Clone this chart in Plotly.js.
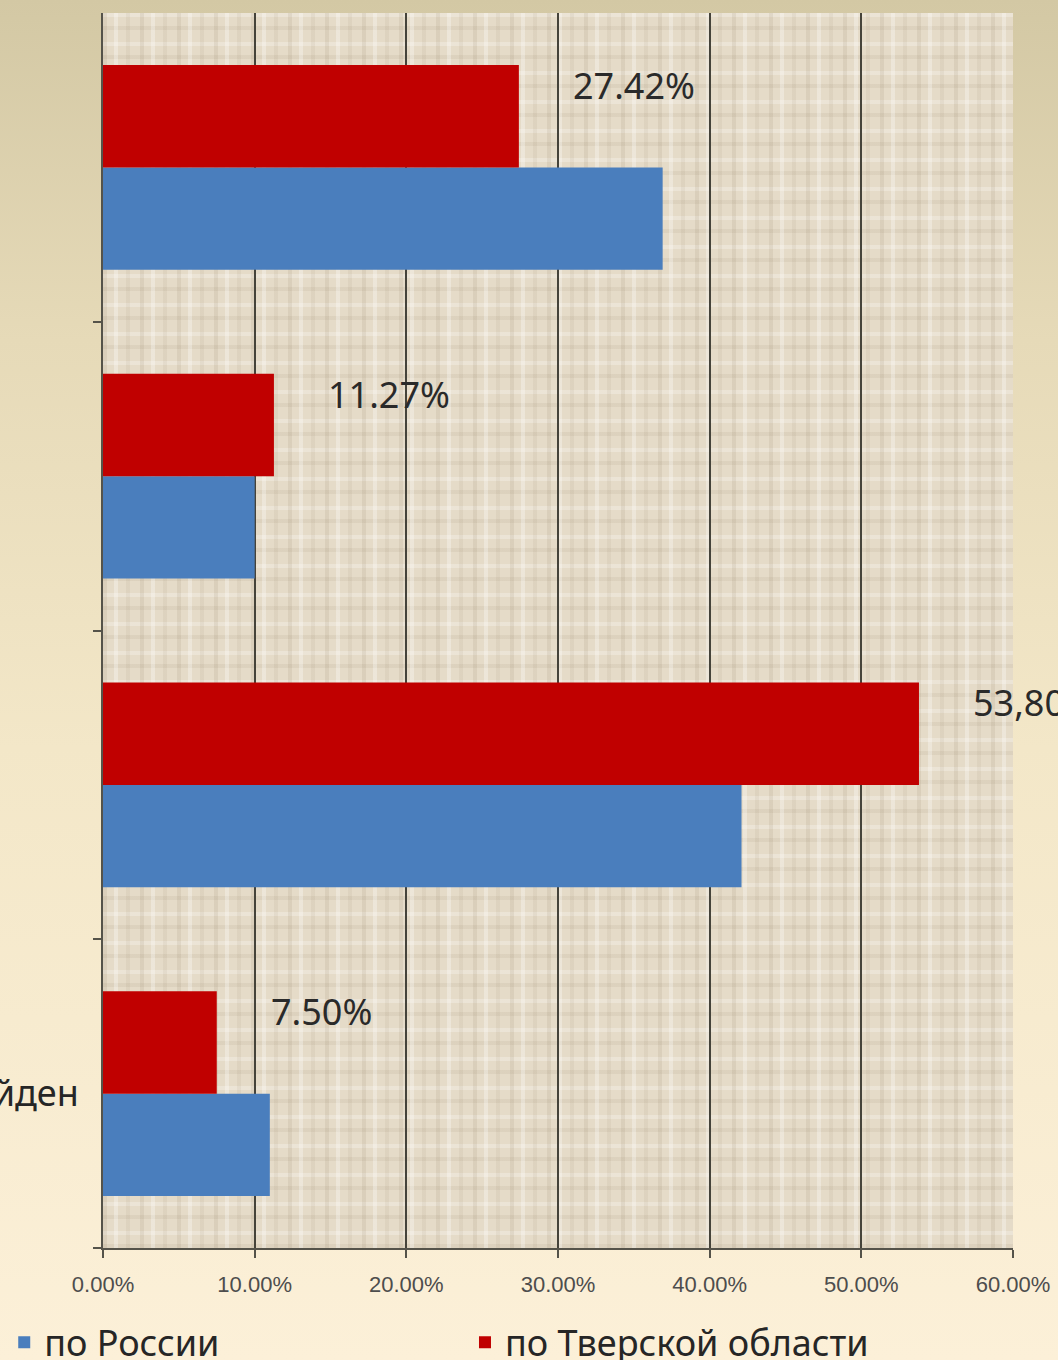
<!DOCTYPE html>
<html>
<head>
<meta charset="utf-8">
<script src="https://cdn.plot.ly/plotly-3.0.1.min.js"></script>
<style>
  html, body { margin: 0; padding: 0; }
  body {
    position: relative;
    width: 1058px; height: 1360px; overflow: hidden;
    background: linear-gradient(to bottom, #d3c8a4 0%, #e6dab8 25%, #f3e7c8 55%, #fcf0d8 100%);
  }
  #texture {
    position: absolute; left: 103px; top: 13px; width: 910px; height: 1235px;
    background-color: #e5dbc8;
    background-image:
      repeating-linear-gradient(90deg, rgba(120,100,70,0.10) 0 4px, transparent 4px 11px, rgba(255,255,255,0.30) 11px 15px, transparent 15px 23px, rgba(120,100,70,0.07) 23px 27px, transparent 27px 37px),
      repeating-linear-gradient(0deg, rgba(120,100,70,0.08) 0 4px, transparent 4px 13px, rgba(255,255,255,0.25) 13px 17px, transparent 17px 29px);
  }
  #chart { position: absolute; left: 0; top: 0; width: 1058px; height: 1360px; }
</style>
</head>
<body>
<div id="texture"></div>
<div id="chart"></div>
<script>
// Categories listed top to bottom (only the end of the last label is visible in the reference)
var categories = ["cat1", "cat2", "cat3", "cat4"];
var categoryLabels = ["", "", "", "Не найден"];
var seriesNames = ["по России", "по Тверской области"];
var russiaValues = [36.9, 10.0, 42.1, 11.0];
var tverValues = [27.42, 11.27, 53.8, 7.50];
var tverLabels = ["27.42%", "11.27%", "53,80%", "7.50%"];
var xTickValues = [0, 10, 20, 30, 40, 50, 60];
var xTickLabels = xTickValues.map(function (v) { return v.toFixed(2) + "%"; });

var blue = "#4a7ebd";
var red = "#c00000";

var traces = [
  {
    type: "bar", orientation: "h", name: seriesNames[0],
    y: categories, x: russiaValues,
    marker: { color: blue }, hoverinfo: "none",
    legend: "legend"
  },
  {
    type: "bar", orientation: "h", name: seriesNames[1],
    y: categories, x: tverValues,
    marker: { color: red }, hoverinfo: "none",
    legend: "legend2"
  }
];

var annotations = categories.map(function (c, i) {
  return {
    x: tverValues[i], y: c, xref: "x", yref: "y",
    text: tverLabels[i], showarrow: false,
    xanchor: "left", yanchor: "middle",
    xshift: 52, yshift: 82,
    font: { family: "Noto Sans, DejaVu Sans, sans-serif", size: 36, color: "#2a2a2a" }
  };
});

var legendFont = { family: "Noto Sans, DejaVu Sans, sans-serif", size: 36, color: "#262626" };

var layout = {
  width: 1058, height: 1360,
  margin: { l: 103, r: 45, t: 13, b: 112 },
  paper_bgcolor: "rgba(0,0,0,0)",
  plot_bgcolor: "rgba(0,0,0,0)",
  barmode: "group",
  bargap: 0.337,
  bargroupgap: 0,
  showlegend: true,
  legend: {
    orientation: "h",
    xref: "container", yref: "container",
    x: 0.004, xanchor: "left",
    y: 0.013, yanchor: "middle",
    font: legendFont,
    bgcolor: "rgba(0,0,0,0)"
  },
  legend2: {
    orientation: "h",
    xref: "container", yref: "container",
    x: 0.4395, xanchor: "left",
    y: 0.013, yanchor: "middle",
    font: legendFont,
    bgcolor: "rgba(0,0,0,0)"
  },
  xaxis: {
    range: [0, 60],
    tickmode: "array",
    tickvals: xTickValues,
    ticktext: xTickLabels,
    showgrid: true, gridcolor: "#45433a", gridwidth: 2,
    zeroline: false,
    showline: true, linecolor: "#55534a", linewidth: 2,
    ticks: "outside", ticklen: 8, tickcolor: "#55534a", tickwidth: 2,
    ticklabelstandoff: 8,
    tickfont: { family: "Liberation Sans, Arial, sans-serif", size: 22, color: "#4d4d4d" },
    automargin: false, fixedrange: true
  },
  yaxis: {
    type: "category",
    categoryorder: "array",
    categoryarray: categories.slice().reverse(),
    tickmode: "array",
    tickvals: categories, ticktext: categoryLabels,
    tickson: "boundaries",
    showgrid: false, zeroline: false,
    showline: true, linecolor: "#55534a", linewidth: 2,
    ticks: "outside", ticklen: 8, tickcolor: "#55534a", tickwidth: 2,
    ticklabelstandoff: 15,
    tickfont: { family: "Noto Sans, DejaVu Sans, sans-serif", size: 36, color: "#262626" },
    automargin: false, fixedrange: true
  },
  annotations: annotations
};

Plotly.newPlot("chart", traces, layout, { displayModeBar: false, staticPlot: true });
</script>
</body>
</html>
